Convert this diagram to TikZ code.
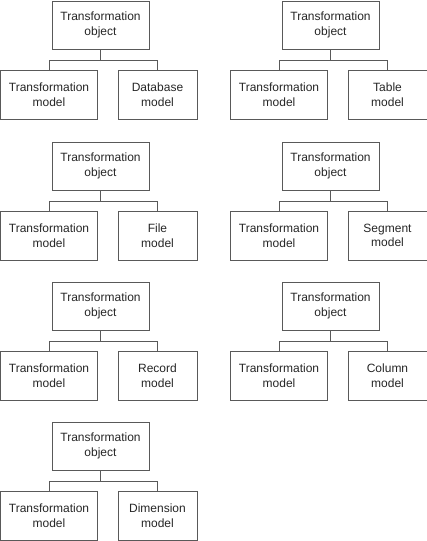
\documentclass[tikz,border=0pt]{standalone}
\usepackage{fontspec}
\setmainfont{Liberation Sans}
\begin{document}
\begin{tikzpicture}[
    x=1pt, y=-1pt,
    every node/.style={font=\fontsize{12}{14.5}\selectfont, text=black!85, align=center, inner sep=0pt},
    objeto/.style={draw=black!65, line width=0.9pt, minimum width=97pt, minimum height=48pt},
    modelo/.style={draw=black!65, line width=0.9pt, minimum width=97pt, minimum height=49pt},
    submodelo/.style={modelo, minimum width=79pt},
    rama/.style={draw=black!65, line width=0.9pt}
]
\useasboundingbox (0,0) rectangle (427,541);
% Grupos: objeto arriba, dos modelos abajo
\foreach \ox/\oy/\tipo/\n in {0/0/Database/1, 230/0/Table/2, 0/141/File/3, 230/141/Segment/4,
                              0/281/Record/5, 230/281/Column/6, 0/421/Dimension/7} {
  \node[objeto] (objeto\n) at (\ox+100.5,\oy+25) {Transformation\\object};
  \node[modelo] (modeloT\n) at (\ox+49,\oy+94.5) {Transformation\\model};
  \node[submodelo] (modelo\n) at (\ox+157.5,\oy+94.5) {\tipo\\model};
  % Aristas
  \draw[rama] (objeto\n.south) -- ++(0,11) coordinate (barra\n);
  \draw[rama] (modeloT\n.north) |- (barra\n) -| (modelo\n.north);
}
\end{tikzpicture}
\end{document}
